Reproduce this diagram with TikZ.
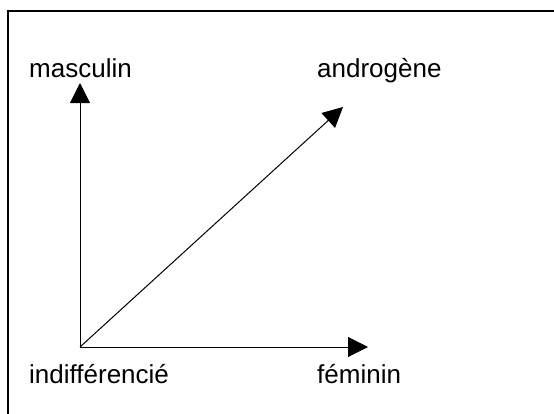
\documentclass[tikz,border=0pt]{standalone}
\usepackage{fontspec}
\setmainfont{Liberation Sans}
\usetikzlibrary{arrows.meta}
\begin{document}
\begin{tikzpicture}[x=1pt,y=-1pt,>={Triangle[length=20pt,width=20pt]},
  lbl/.style={font=\fontsize{26}{30}\selectfont,inner sep=0pt,anchor=base west}]
  \useasboundingbox (0,0) rectangle (554,413);
  \draw[line width=1.5pt] (8,420) -- (8,11) -- (560,11);
  \coordinate (o) at (80,347);
  \coordinate (m) at (80,83);
  \coordinate (a) at (343,107);
  \coordinate (f) at (368,347);
  \draw[line width=1pt,->] (o) -- (m);
  \draw[line width=1pt,->] (o) -- (a);
  \draw[line width=1pt,->] (o) -- (f);
  \node[lbl] (masc) at (29,77) {masculin};
  \node[lbl] (andro) at (317,77) {androgène};
  \node[lbl] (indiff) at (29,383) {indifférencié};
  \node[lbl] (femi) at (317,383) {féminin};
\end{tikzpicture}
\end{document}
